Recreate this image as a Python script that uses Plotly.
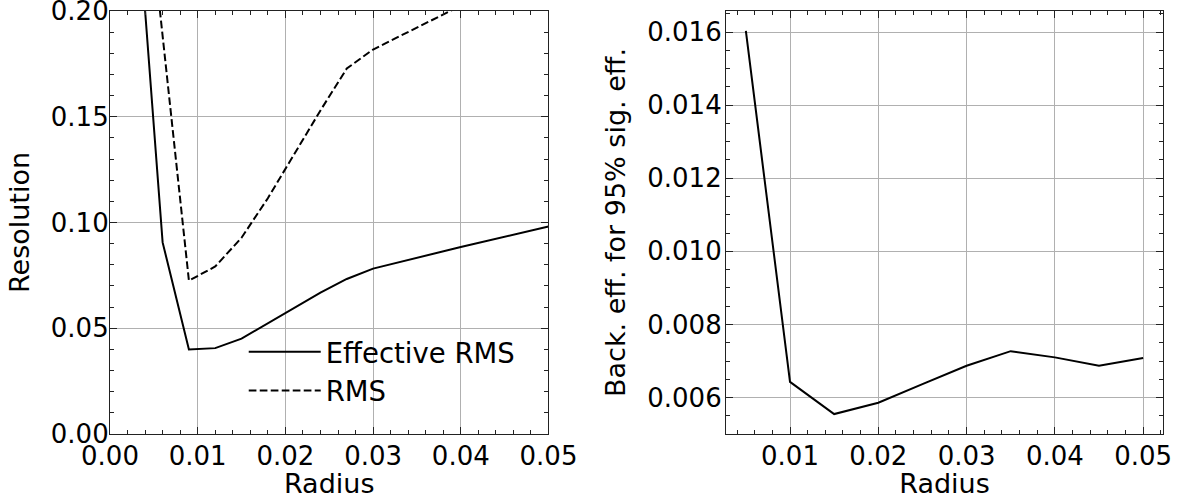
import plotly.graph_objects as go

# ---- data ----
radius_left = [0.003, 0.006, 0.009, 0.012, 0.015, 0.018, 0.021, 0.024, 0.027, 0.030, 0.040, 0.050]
effective_rms = [0.255, 0.0906, 0.0400, 0.0406, 0.0451, 0.0522, 0.0595, 0.0668, 0.0733, 0.0782, 0.0884, 0.0981]
rms = [0.304, 0.188, 0.0725, 0.0792, 0.0928, 0.1115, 0.132, 0.153, 0.1728, 0.1818, 0.2025, 0.225]

radius_right = [0.005, 0.010, 0.015, 0.020, 0.025, 0.030, 0.035, 0.040, 0.045, 0.050]
back_eff = [0.01603, 0.00643, 0.00555, 0.00586, 0.00637, 0.00687, 0.00727, 0.00710, 0.00687, 0.00708]

left_xticks = [0.00, 0.01, 0.02, 0.03, 0.04, 0.05]
left_yticks = [0.00, 0.05, 0.10, 0.15, 0.20]
right_xticks = [0.01, 0.02, 0.03, 0.04, 0.05]
right_yticks = [0.006, 0.008, 0.010, 0.012, 0.014, 0.016]

FONT = "DejaVu Sans"
BLACK = "#000000"
GRID = "#b0b0b0"
AX = "#222222"

fig = go.Figure()
fig.add_trace(go.Scatter(x=radius_left, y=effective_rms, mode="lines", name="Effective RMS",
                         line=dict(color=BLACK, width=2), xaxis="x", yaxis="y"))
fig.add_trace(go.Scatter(x=radius_left, y=rms, mode="lines", name="RMS",
                         line=dict(color=BLACK, width=2, dash="7.7px,3.3px"), xaxis="x", yaxis="y"))
fig.add_trace(go.Scatter(x=radius_right, y=back_eff, mode="lines", showlegend=False,
                         line=dict(color=BLACK, width=2), xaxis="x2", yaxis="y2"))

def axis_common(**kw):
    d = dict(
        showline=True, linecolor=AX, linewidth=1.2, mirror="allticks",
        ticks="inside", ticklen=7, tickwidth=1, tickcolor=AX,
        showgrid=True, gridcolor=GRID, gridwidth=1,
        zeroline=False, automargin=False, ticklabeloverflow="allow",
        tickfont=dict(family=FONT, size=26, color=BLACK),
        title_font=dict(family=FONT, size=27, color=BLACK),
    )
    d.update(kw)
    return d

def minor(dt):
    return dict(dtick=dt, tick0=0, ticks="inside", ticklen=4, tickcolor=AX, showgrid=False)

fig.update_layout(
    width=1187, height=499,
    margin=dict(l=110, r=24, t=11, b=65),
    paper_bgcolor="white", plot_bgcolor="white",
    font=dict(family=FONT, size=26, color=BLACK),
    xaxis=axis_common(domain=[0, 0.4164], range=[0, 0.05], tickvals=left_xticks,
                      tickformat=".2f", anchor="y", ticklabelstandoff=-1,
                      title=dict(text="Radius", standoff=0), minor=minor(0.002)),
    yaxis=axis_common(domain=[0, 1], range=[0, 0.2], tickvals=left_yticks,
                      tickformat=".2f", anchor="x", ticklabelstandoff=-5,
                      title=dict(text="Resolution", standoff=13), minor=minor(0.01)),
    xaxis2=axis_common(domain=[0.585, 1], range=[0.00275, 0.05225], tickvals=right_xticks,
                       tickformat=".2f", anchor="y2", ticklabelstandoff=-1,
                       title=dict(text="Radius", standoff=0), minor=minor(0.002)),
    yaxis2=axis_common(domain=[0, 1], range=[0.005004, 0.016576], tickvals=right_yticks,
                       tickformat=".3f", anchor="x2", ticklabelstandoff=-2,
                       title=dict(text="Back. eff. for 95% sig. eff.", standoff=13), minor=minor(0.0005)),
    legend=dict(x=0.127, y=0.252, xanchor="left", yanchor="top", bgcolor="rgba(0,0,0,0)",
                borderwidth=0, font=dict(family=FONT, size=27.5, color=BLACK), itemwidth=72,
                tracegroupgap=0),
    showlegend=True,
)

fig.write_html("out.html", config={"displayModeBar": False},
               post_script="document.body.style.margin='0';document.body.style.overflow='hidden';")
